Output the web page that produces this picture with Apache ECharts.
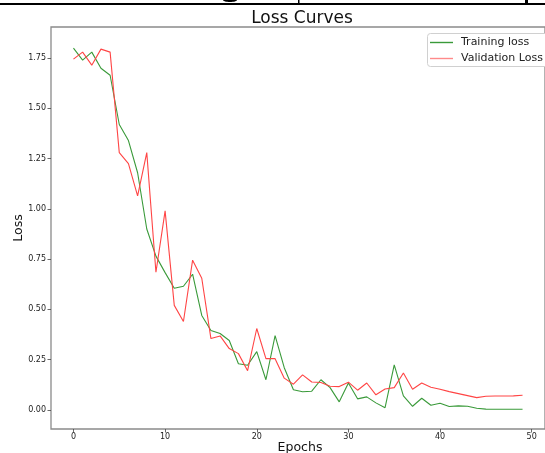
<!DOCTYPE html>
<html>
<head>
<meta charset="utf-8">
<script src="https://cdn.jsdelivr.net/npm/echarts@6/dist/echarts.min.js"></script>
<style>html,body{margin:0;padding:0;background:#fff;}#c{width:545px;height:453px;}</style>
</head>
<body>
<div id="c"></div>
<script>
var epochs = [];
for (var i = 0; i < 50; i++) epochs.push(i);
var trainingLoss = [1.80,1.74,1.78,1.70,1.665,1.42,1.34,1.18,0.90,0.765,
  0.683,0.605,0.615,0.675,0.47,0.395,0.38,0.345,0.23,0.222,
  0.29,0.15,0.37,0.21,0.10,0.09,0.093,0.15,0.111,0.04,
  0.134,0.055,0.065,0.035,0.011,0.224,0.07,0.018,0.058,0.023,
  0.033,0.017,0.02,0.018,0.008,0.004,0.003,0.003,0.003,0.003];
var validationLoss = [1.745,1.78,1.715,1.795,1.78,1.28,1.225,1.065,1.28,0.685,
  0.99,0.52,0.44,0.745,0.655,0.355,0.368,0.305,0.28,0.195,
  0.405,0.255,0.255,0.158,0.128,0.174,0.139,0.136,0.118,0.116,
  0.138,0.098,0.134,0.075,0.104,0.111,0.184,0.103,0.134,0.113,
  0.103,0.091,0.081,0.071,0.061,0.068,0.069,0.069,0.07,0.073];
var xTicks = [0,10,20,30,40,50];
var yTicks = [0,0.25,0.5,0.75,1.0,1.25,1.5,1.75];

function pairs(arr){ return epochs.map(function(e,i){ return [e, arr[i]]; }); }

var chart = echarts.init(document.getElementById('c'), null, {renderer:'canvas'});
var FONT = 'DejaVu Sans';
chart.setOption({
  animation: false,
  backgroundColor: '#fff',
  textStyle: {fontFamily: FONT},
  grid: {left: 51, top: 27, width: 504, height: 402, show: true, borderColor: '#8a8a8a', borderWidth: 1.3, containLabel: false},
  xAxis: {
    type: 'value', min: -2.45, max: 51.45,
    axisLine: {show: false, onZero: false},
    splitLine: {show: false},
    axisTick: {show: true, inside: false, length: 3.5, lineStyle: {color: '#444', width: 0.8}, customValues: xTicks},
    axisLabel: {customValues: xTicks, fontSize: 8, color: '#222', margin: 4, fontFamily: FONT}
  },
  yAxis: {
    type: 'value', min: -0.095, max: 1.905,
    axisLine: {show: false, onZero: false},
    splitLine: {show: false},
    axisTick: {show: true, inside: false, length: 3.5, lineStyle: {color: '#444', width: 0.8}, customValues: yTicks},
    axisLabel: {customValues: yTicks, fontSize: 8, color: '#222', margin: 5, fontFamily: FONT,
      formatter: function(v){ return v.toFixed(2); }}
  },
  legend: {
    orient: 'vertical', left: 427, top: 33,
    padding: [4, 10, 4, 3], itemGap: 5,
    itemWidth: 23, itemHeight: 1.4,
    borderWidth: 0,
    textStyle: {fontSize: 11, color: '#222', fontFamily: FONT, padding: [0,0,0,3]},
    data: [{name: 'Training loss', icon: 'rect'}, {name: 'Validation Loss', icon: 'rect'}]
  },
  series: [
    {name: 'Training loss', type: 'line', data: pairs(trainingLoss), showSymbol: false, symbol: 'none',
     lineStyle: {color: '#3a9a3a', width: 1.1}, itemStyle: {color: '#3a9a3a'}},
    {name: 'Validation Loss', type: 'line', data: pairs(validationLoss), showSymbol: false, symbol: 'none',
     lineStyle: {color: '#ff4545', width: 1.1}, itemStyle: {color: '#ff8a8a'}}
  ],
  graphic: [
    {type: 'rect', z: 0, shape: {x: 427.5, y: 33.5, width: 140, height: 33, r: 3}, style: {fill: '#fff', stroke: '#d0d0d0', lineWidth: 1}},
    {type: 'rect', shape: {x: 0, y: 3, width: 545, height: 2}, style: {fill: '#000'}},
    {type: 'rect', shape: {x: 298, y: 0, width: 1.5, height: 4}, style: {fill: '#000'}},
    {type: 'ellipse', shape: {cx: 230, cy: 0, rx: 7, ry: 2}, style: {fill: '#000'}},
    {type: 'rect', shape: {x: 525, y: 0, width: 3, height: 3}, style: {fill: '#000'}},
    {type: 'text', x: 302, y: 18.5, style: {text: 'Loss Curves', font: '17px "DejaVu Sans"', fill: '#111', textAlign: 'center', textVerticalAlign: 'middle'}},
    {type: 'text', x: 300, y: 447.5, style: {text: 'Epochs', font: '12.5px "DejaVu Sans"', fill: '#111', textAlign: 'center', textVerticalAlign: 'middle'}},
    {type: 'text', x: 18.5, y: 228, rotation: Math.PI/2, style: {text: 'Loss', font: '12.5px "DejaVu Sans"', fill: '#111', textAlign: 'center', textVerticalAlign: 'middle'}}
  ]
});
</script>
</body>
</html>
